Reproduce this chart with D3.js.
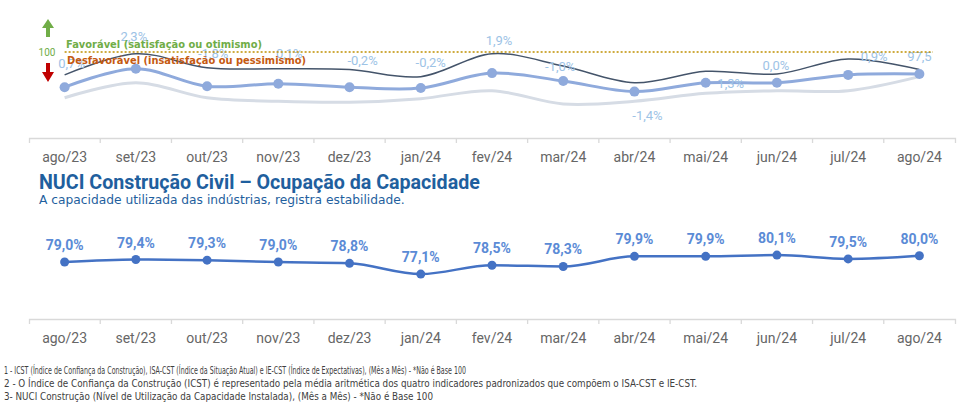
<!DOCTYPE html>
<html><head><meta charset="utf-8">
<script src="https://cdn.jsdelivr.net/npm/d3@7"></script>
<style>
body{margin:0;background:#fff;}
svg{display:block;}
</style></head>
<body>
<svg id="c" width="967" height="403"></svg>
<script>
// ---------- DATA ----------
const categories = ["ago/23","set/23","out/23","nov/23","dez/23","jan/24","fev/24","mar/24","abr/24","mai/24","jun/24","jul/24","ago/24"];
// Top chart (index values, base 100 reference)
const icst   = [96.0, 98.1, 96.1, 96.4, 96.0, 95.9, 97.6, 96.7, 95.5, 96.5, 96.5, 97.4, 97.5];
const ieCst  = [97.4, 99.8, 98.2, 98.1, 98.0, 97.2, 99.8, 98.4, 96.5, 97.8, 97.5, 99.2, 98.0];
const isaCst = [94.8, 96.5, 94.8, 94.4, 94.3, 94.7, 95.6, 94.1, 94.4, 95.3, 95.6, 95.6, 97.2];
const icstLabels = ["0,7%","2,3%","-1,8%","0,1%","-0,2%","-0,2%","1,9%","-1,0%","-1,4%","1,3%","0,0%","0,9%","97,5"];
const referenceValue = 100;
// Bottom chart (NUCI %)
const nuci = [79.0, 79.4, 79.3, 79.0, 78.8, 77.1, 78.5, 78.3, 79.9, 79.9, 80.1, 79.5, 80.0];
const nuciLabels = ["79,0%","79,4%","79,3%","79,0%","78,8%","77,1%","78,5%","78,3%","79,9%","79,9%","80,1%","79,5%","80,0%"];
const titleText = "NUCI Construção Civil – Ocupação da Capacidade";
const subtitleText = "A capacidade utilizada das indústrias, registra estabilidade.";
const legendFav = "Favorável (satisfação ou otimismo)";
const legendDesf = "Desfavorável (insatisfação ou pessimismo)";
const footnotes = [
  "1 - ICST (Índice de Confiança da Construção), ISA-CST (Índice da Situação Atual) e IE-CST (Índice de Expectativas), (Mês a Mês) - *Não é Base 100",
  "2 - O Índice de Confiança da Construção (ICST) é representado pela média aritmética dos quatro indicadores padronizados que compõem o ISA-CST e IE-CST.",
  "3- NUCI Construção (Nível de Utilização da Capacidade Instalada),  (Mês a Mês) - *Não é Base 100"
];

// ---------- LAYOUT (label placement offsets, px) ----------
const icstLabelOffsets = [[7,-24],[-2,-33],[6,-33],[11,-31],[13,-27],[10,-26],[7,-33],[-3,-15],[13,23],[25,0],[-1,-18],[26,-19],[0,-18]];

const svg = d3.select("#c");
const x = d3.scaleBand().domain(categories).range([29, 955]);
const cx = d => x(d) + x.bandwidth()/2;

function drawAxis(yPos){
  const g = svg.append("g").attr("transform", `translate(0,${yPos})`)
    .call(d3.axisBottom(x).tickSizeInner(0).tickSizeOuter(5).tickPadding(0));
  g.select(".domain").attr("stroke", "#d9d9d9").attr("stroke-width", 1.3);
  g.selectAll("text").attr("y", 24).attr("dy", null)
    .attr("font-family", "Roboto, sans-serif").attr("font-size", 14).attr("fill", "#666");
  g.selectAll(".bnd").data(categories.slice(1)).enter().append("line")
    .attr("x1", d => x(d)).attr("x2", d => x(d)).attr("y1", 0).attr("y2", 5)
    .attr("stroke", "#d9d9d9").attr("stroke-width", 1.3);
}

// ---------- TOP CHART ----------
const yT = d3.scaleLinear().domain([90, 100]).range([140, 52]);
drawAxis(138);

const lineT = arr => d3.line().x((d,i) => cx(categories[i])).y(d => yT(d)).curve(d3.curveCardinal)(arr);

svg.append("path").attr("d", lineT(isaCst)).attr("fill","none").attr("stroke","#d6dce5").attr("stroke-width",3);
svg.append("path").attr("d", lineT(ieCst)).attr("fill","none").attr("stroke","#44546a").attr("stroke-width",1.5);
svg.append("path").attr("d", lineT(icst)).attr("fill","none").attr("stroke","#8faadc").attr("stroke-width",3);
svg.selectAll(".mT").data(icst).enter().append("circle")
  .attr("cx",(d,i)=>cx(categories[i])).attr("cy",d=>yT(d)).attr("r",5).attr("fill","#8faadc");

svg.selectAll(".lT").data(icstLabels).enter().append("text")
  .attr("x",(d,i)=>cx(categories[i]) + icstLabelOffsets[i][0])
  .attr("y",(d,i)=>yT(icst[i]) + icstLabelOffsets[i][1] + 5)
  .attr("text-anchor","middle").attr("font-family","Roboto, sans-serif").attr("font-size",13)
  .attr("fill","#9dc3e6").text(d=>d);

// reference line
svg.append("line").attr("x1", cx(categories[0])).attr("x2", 933)
  .attr("y1", yT(referenceValue)).attr("y2", yT(referenceValue))
  .attr("stroke","#bf9000").attr("stroke-width",1.5).attr("stroke-dasharray","2,2");
svg.append("text").attr("x",47).attr("y",yT(referenceValue)+4).attr("text-anchor","middle")
  .attr("font-family","Roboto, sans-serif").attr("font-size",10).attr("fill","#70ad47").text(String(referenceValue));

// legend texts
svg.append("text").attr("x",66).attr("y",48).attr("font-family","'DejaVu Sans', Verdana, sans-serif")
  .attr("font-weight","bold").attr("font-size",10.5).attr("fill","#70ad47")
  .attr("textLength",196).attr("lengthAdjust","spacingAndGlyphs").text(legendFav);
svg.append("text").attr("x",67).attr("y",64).attr("font-family","'DejaVu Sans', Verdana, sans-serif")
  .attr("font-weight","bold").attr("font-size",10.5).attr("fill","#c55a11")
  .attr("textLength",239).attr("lengthAdjust","spacingAndGlyphs").text(legendDesf);

// arrows
svg.append("path").attr("d","M48,19 L54,28 L50,28 L50,37 L46,37 L46,28 L42,28 Z").attr("fill","#70ad47");
svg.append("path").attr("d","M46,63 L50,63 L50,72 L54,72 L48,82 L42,72 L46,72 Z").attr("fill","#c00000");

// ---------- TITLE ----------
const title = svg.append("text").attr("x",39).attr("y",189).attr("font-family","Roboto, sans-serif")
  .attr("font-weight","bold").attr("font-size",20).attr("fill","#1f5f9e").text(titleText);
const tl = title.node().getComputedTextLength();
title.attr("font-size", 20*441/tl);
const sub = svg.append("text").attr("x",39).attr("y",204).attr("font-family","'DejaVu Sans', Verdana, sans-serif")
  .attr("font-size",11).attr("fill","#1f5f9e").text(subtitleText);
const sl = sub.node().getComputedTextLength();
sub.attr("font-size", 11*366/sl);

// ---------- BOTTOM CHART ----------
const yB = d3.scaleLinear().domain([70, 84]).range([319, 230.4]);
drawAxis(319);
const lineB = d3.line().x((d,i)=>cx(categories[i])).y(d=>yB(d)).curve(d3.curveMonotoneX);
svg.append("path").attr("d", lineB(nuci)).attr("fill","none").attr("stroke","#4472c4").attr("stroke-width",2.5);
svg.selectAll(".mB").data(nuci).enter().append("circle")
  .attr("cx",(d,i)=>cx(categories[i])).attr("cy",d=>yB(d)).attr("r",4.5).attr("fill","#4472c4");
svg.selectAll(".lB").data(nuciLabels).enter().append("text")
  .attr("x",(d,i)=>cx(categories[i])).attr("y",(d,i)=>yB(nuci[i]) - 12)
  .attr("text-anchor","middle").attr("font-family","Roboto, sans-serif").attr("font-weight","bold")
  .attr("font-size",14).attr("fill","#5b8bd6").text(d=>d);

// ---------- FOOTNOTES ----------
const fnWidths = [462, 693, 429];
footnotes.forEach((t,i)=>{
  svg.append("text").attr("x",4).attr("y",374 + i*13)
    .attr("font-family","'Liberation Sans Narrow', 'DejaVu Sans Condensed', 'Roboto Condensed', sans-serif")
    .attr("font-size",10).attr("fill","#404040")
    .attr("textLength",fnWidths[i]).attr("lengthAdjust","spacingAndGlyphs").text(t);
});
</script>
</body></html>
